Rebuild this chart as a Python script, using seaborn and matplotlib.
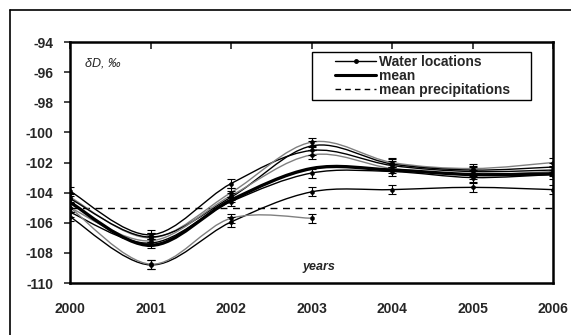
import numpy as np
import pandas as pd
import seaborn as sns
import matplotlib.pyplot as plt
from matplotlib.path import Path
from matplotlib.patches import PathPatch, Rectangle
from matplotlib.lines import Line2D

years = [2000, 2001, 2002, 2003, 2004, 2005, 2006]

loc1 = [-103.9, -106.8, -103.4, -101.2, -102.2, -102.6, -102.5]
loc2 = [-104.3, -107.0, -104.0, -100.65, -102.0, -102.4, -102.0]
loc3 = [-104.4, -106.95, -104.3, -100.9, -102.1, -102.5, -102.3]
loc4 = [-105.0, -107.2, -104.2, -101.5, -102.4, -102.8, -102.6]
loc5 = [-105.3, -107.35, -104.6, -102.7, -102.6, -103.0, -102.8]
loc6 = [-105.6, -108.8, -105.95, -103.95, -103.8, -103.65, -103.8]
loc7 = [-105.0, -108.75, -105.7, -105.7, np.nan, np.nan, np.nan]
locations = [loc1, loc2, loc3, loc4, loc5, loc6, loc7]
loc_colors = ['#000000', '#808080', '#000000', '#808080', '#000000', '#000000', '#808080']
err = [0.3, 0.3, 0.3, 0.3, 0.3, 0.3, 0.3]

mean_vals = [-104.65, -107.5, -104.5, -102.4, -102.5, -102.8, -102.75]
mean_precip = -105.0


def smooth_path(xs, ys):
    # Excel-like smoothed line: bezier segments through the points
    pts = [(x, y) for x, y in zip(xs, ys) if not np.isnan(y)]
    pts = np.array(pts, dtype=float)
    n = len(pts)
    verts = [pts[0]]
    codes = [Path.MOVETO]
    for i in range(n - 1):
        p0 = pts[i - 1] if i > 0 else pts[i]
        p1 = pts[i]
        p2 = pts[i + 1]
        p3 = pts[i + 2] if i + 2 < n else pts[i + 1]
        c1 = p1 + (p2 - p0) / 6.0
        c2 = p2 - (p3 - p1) / 6.0
        verts += [c1, c2, p2]
        codes += [Path.CURVE4] * 3
    return Path(verts, codes)


sns.set_style('ticks')
plt.rcParams['font.family'] = ['Liberation Sans', 'DejaVu Sans']
plt.rcParams['axes.unicode_minus'] = False

fig = plt.figure(figsize=(5.71, 3.35), dpi=100)
ax = fig.add_axes([0.1226, 0.1552, 0.8459, 0.7194])

rows = []
for k, loc in enumerate(locations):
    for yr, v in zip(years, loc):
        if not np.isnan(v):
            rows.append({'year': yr, 'dD': v, 'loc': f'L{k + 1}'})
df = pd.DataFrame(rows)

for k, loc in enumerate(locations):
    ax.add_patch(PathPatch(smooth_path(years, loc), fill=False,
                           edgecolor=loc_colors[k], lw=1.0, zorder=2))
    yerr = [err[k] if not np.isnan(v) else np.nan for v in loc]
    ax.errorbar(years, loc, yerr=yerr, fmt='none', ecolor='black',
                elinewidth=0.8, capsize=3, capthick=0.8, zorder=3)

sns.scatterplot(data=df, x='year', y='dD', ax=ax, color='black', s=9,
                edgecolor='black', linewidth=0.3, legend=False, zorder=4)

ax.add_patch(PathPatch(smooth_path(years, mean_vals), fill=False,
                       edgecolor='black', lw=2.4, zorder=5))
ax.axhline(mean_precip, color='black', lw=1.0, ls=(0, (5, 4)), zorder=1)

ax.set_xlim(2000, 2006)
ax.set_ylim(-110, -94)
ax.set_yticks(np.arange(-110, -93, 2))
ax.set_xticks(years)
ax.set_xlabel('')
ax.set_ylabel('')
for s in ax.spines.values():
    s.set_visible(True)
    s.set_linewidth(1.8)
    s.set_color('black')

ax.tick_params(axis='y', direction='out', length=4, width=1.2, pad=8,
               labelsize=10)
ax.tick_params(axis='x', which='both', bottom=False, top=True, labelbottom=True,
               labeltop=False, direction='in', length=5, width=1.2, pad=14,
               labelsize=10)
for lab in ax.get_xticklabels() + ax.get_yticklabels():
    lab.set_fontweight('bold')

ax.text(0.031, 0.909, 'δD, ‰', transform=ax.transAxes, fontsize=9,
        style='italic', ha='left', va='center')
ax.text(0.482, 0.066, 'years', transform=ax.transAxes, fontsize=9,
        style='italic', fontweight='bold', ha='left', va='center')

handles = [
    Line2D([], [], color='black', lw=1.0, marker='o', markersize=2.5),
    Line2D([], [], color='black', lw=2.2),
    Line2D([], [], color='black', lw=1.0, ls=(0, (4, 3))),
]
leg = ax.legend(handles, ['Water locations', 'mean', 'mean precipitations'],
                loc='upper left', bbox_to_anchor=(0.548, 0.945),
                borderaxespad=0, frameon=False, numpoints=1,
                prop={'weight': 'bold', 'size': 10}, handlelength=3.0,
                handletextpad=0.2, labelspacing=0.0, borderpad=0.0)
leg.set_zorder(7)
ax.add_patch(Rectangle((0.501, 0.759), 0.453, 0.2, transform=ax.transAxes,
                       facecolor='white', edgecolor='black', lw=1.0, zorder=6))

# outer frame of the chart area
fig.add_artist(Line2D([0.0175, 0.0175], [0.0, 0.970], color='black', lw=1.2,
                      transform=fig.transFigure))
fig.add_artist(Line2D([0.0175, 1.0], [0.970, 0.970], color='black', lw=1.2,
                      transform=fig.transFigure))

fig.savefig('out.png', dpi=100)
